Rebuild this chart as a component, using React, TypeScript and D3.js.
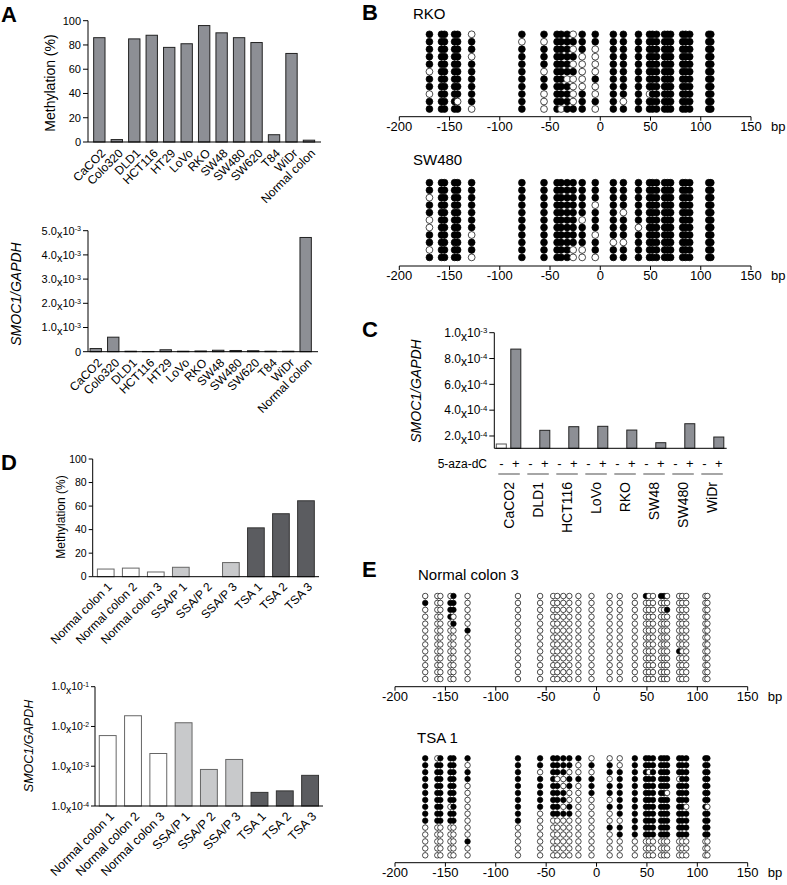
import * as d3 from "d3";

const FONT = "Arial, 'Liberation Sans', Helvetica, sans-serif";

// ---- panel A data ----
const cellLines = ["CaCO2", "Colo320", "DLD1", "HCT116", "HT29", "LoVo", "RKO", "SW48", "SW480", "SW620", "T84", "WiDr", "Normal colon"];
const cellMeth = [86, 2, 85, 88, 78, 81, 96, 90, 86, 82, 6, 73, 1.5];
const cellExpr = [1.3e-4, 6.0e-4, 2e-5, 1e-5, 8e-5, 2e-5, 3e-5, 6e-5, 5e-5, 4e-5, 2e-5, 2e-5, 4.72e-3];
const methTicks = [0, 20, 40, 60, 80, 100];
const exprTicksA = [0, 1e-3, 2e-3, 3e-3, 4e-3, 5e-3];

// ---- panel C data ----
const azaLines = ["CaCO2", "DLD1", "HCT116", "LoVo", "RKO", "SW48", "SW480", "WiDr"];
const azaMinus = [1.38e-4, 5e-5, 5e-5, 5e-5, 5e-5, 5e-5, 5e-5, 5e-5];
const azaPlus = [8.73e-4, 2.44e-4, 2.72e-4, 2.75e-4, 2.46e-4, 1.48e-4, 2.95e-4, 1.92e-4];
const azaTicks = [2e-4, 4e-4, 6e-4, 8e-4, 1e-3];

// ---- panel D data ----
const tissues = ["Normal colon 1", "Normal colon 2", "Normal colon 3", "SSA/P 1", "SSA/P 2", "SSA/P 3", "TSA 1", "TSA 2", "TSA 3"];
const tissueGroup = ["normal", "normal", "normal", "ssap", "ssap", "ssap", "tsa", "tsa", "tsa"];
const tissueMeth = [6.5, 7.3, 4, 8, 0, 12, 41.5, 53.5, 64.5];
const tissueExpr = [5.9e-3, 1.86e-2, 2.09e-3, 1.24e-2, 8.3e-4, 1.48e-3, 2.2e-4, 2.4e-4, 5.9e-4];
const logTicks = [1e-4, 1e-3, 1e-2, 1e-1];

// ---- bisulfite sequencing (B, E) ----
const cpgSites = [-170, -158, -155, -145, -142, -128, -78, -56, -43, -39, -33, -27, -18, -5, 13, 23, 38, 49, 52, 56, 64, 67, 70, 82, 85, 89, 108, 110];
const bpTicks = [-200, -150, -100, -50, 0, 50, 100, 150];
// per clone: site indexes that are unmethylated
const rkoUnmeth = [[5, 11], [6, 7], [11, 13], [5, 12, 13], [11, 12, 13], [0, 7, 12, 13], [10, 11, 12], [11, 12, 13], [0, 7, 11, 13, 17], [4, 7, 11, 15], [5, 7, 9, 13]];
const sw480Unmeth = [[], [], [0], [13], [15], [0, 12], [0, 16], [5, 13], [14, 15], [0, 11, 12], [5, 11, 12, 13]];
// per clone: site indexes that are methylated
const nc3Meth = [[4, 17, 20, 21], [0, 3, 4], [3, 4, 22], [3], [4], [5], [], [], [23], [], [], [], []];
const tsa1Rows = [
  "1011111111111000111111111111",
  "1111101111110110111111111111",
  "1111111011100011110111111111",
  "1111111110011101111111101111",
  "1111101111010111111111111111",
  "1111101111100111111111011111",
  "1111101111100001111111111111",
  "1110101111010011111111111010",
  "1111101011110001111111111111",
  "1111101000000000111111111111",
  "0000000000000011111111111111",
  "0000000000000001111111111111",
  "0000010000000000000000000000",
  "0000000000000000000000000000",
  "0000000000000000000000000000",
];

const fromFlips = (flips: number[][], base: boolean) =>
  flips.map((f) => cpgSites.map((_, i) => (f.includes(i) ? !base : base)));
const fromStrings = (rows: string[]) => rows.map((r) => r.split("").map((c) => c === "1"));

function sciParts(v: number) {
  const e = Math.floor(Math.log10(v) + 1e-9);
  const m = v / Math.pow(10, e);
  return { m: m.toFixed(1), e };
}

function tickText(v: number, sci: boolean) {
  if (!sci || v === 0) return String(v);
  const { m, e } = sciParts(v);
  return (
    <>
      <tspan>{m}</tspan>
      <tspan dy="0.3em">x</tspan>
      <tspan dy="-0.3em">10</tspan>
      <tspan dy="-0.45em" fontSize="0.65em">{"-" + -e}</tspan>
    </>
  );
}

function BarChart(p: any) {
  const { band, y, baseY, axisX } = p;
  const top = y(d3.max(p.ticks as number[]));
  const floor = y.domain()[0];
  return (
    <g fontFamily={FONT} fill="#000">
      {p.keys.map((k: string, i: number) => {
        const v = p.values[i];
        if (v <= floor) return null;
        const yy = y(v);
        return (
          <rect key={k} x={band(k)} y={yy} width={band.bandwidth()} height={baseY - yy}
            fill={p.fills[i]} stroke={p.strokes[i]} strokeWidth={1} />
        );
      })}
      <line x1={axisX} x2={axisX} y1={baseY} y2={top} stroke="#000" />
      <line x1={axisX} x2={p.axisEnd} y1={baseY} y2={baseY} stroke="#000" />
      {p.ticks.map((t: number) => (
        <g key={t}>
          <line x1={axisX - p.tickLen} x2={axisX} y1={y(t)} y2={y(t)} stroke="#000" />
          <text x={axisX - p.tickLen - 2} y={y(t)} dy="0.35em" textAnchor="end" fontSize={p.tickFont}>
            {tickText(t, p.sci)}
          </text>
        </g>
      ))}
      {p.labels &&
        p.keys.map((k: string, i: number) => {
          const cx = band(k) + band.bandwidth() / 2;
          return (
            <text key={"l" + k} transform={`translate(${cx + p.labelDx},${baseY + p.labelDy}) rotate(-45)`}
              textAnchor="end" dy="0.7em" fontSize={p.labelFont}>
              {p.labels[i]}
            </text>
          );
        })}
      <text transform={`translate(${p.yTitleX},${p.yTitleY}) rotate(-90)`} textAnchor="middle"
        fontSize={p.yTitleFont} fontStyle={p.italic ? "italic" : "normal"}>
        {p.yTitle}
      </text>
    </g>
  );
}

function Lollipop(p: any) {
  const x = d3.scaleLinear().domain([-200, 150]).range([p.x0, p.x1]);
  const rows: boolean[][] = p.rows;
  const yLast = p.rowY0 + (rows.length - 1) * p.rowStep;
  return (
    <g fontFamily={FONT} fill="#000">
      <text x={p.titleX} y={p.titleY} fontSize={p.titleFont}>{p.title}</text>
      {cpgSites.map((s) => (
        <line key={"s" + s} x1={x(s)} x2={x(s)} y1={p.rowY0} y2={yLast} stroke="#999" strokeWidth={0.8} />
      ))}
      {rows.map((row, ri) =>
        row.map((m, si) => (
          <circle key={ri + "-" + si} cx={x(cpgSites[si])} cy={p.rowY0 + ri * p.rowStep} r={p.r}
            fill={m ? "#000" : "#fff"} stroke="#000" strokeWidth={0.7} />
        ))
      )}
      <line x1={p.x0} x2={p.x1} y1={p.axisY} y2={p.axisY} stroke="#000" />
      {bpTicks.map((t) => (
        <g key={t}>
          <line x1={x(t)} x2={x(t)} y1={p.axisY} y2={p.axisY + 4} stroke="#000" />
          <text x={x(t)} y={p.axisY + 14} textAnchor="middle" fontSize={p.tickFont}>{t}</text>
        </g>
      ))}
      <text x={p.x1 + 20} y={p.axisY + 14} fontSize={p.tickFont}>bp</text>
    </g>
  );
}

const groupFill: Record<string, string> = { normal: "#ffffff", ssap: "#c8c9cb", tsa: "#5b5c60" };
const groupStroke: Record<string, string> = { normal: "#666", ssap: "#666", tsa: "#333" };

export default function App() {
  const grayFill = cellLines.map(() => "#8d8f95");
  const grayStroke = cellLines.map(() => "#222");

  const bandA1 = d3.scaleBand<string>().domain(cellLines).range([90.6, 317.7]).paddingInner(0.35).paddingOuter(0.175);
  const yA1 = d3.scaleLinear().domain([0, 100]).range([142, 20.7]);
  const bandA2 = d3.scaleBand<string>().domain(cellLines).range([87, 314.4]).paddingInner(0.35).paddingOuter(0.175);
  const yA2 = d3.scaleLinear().domain([0, 5e-3]).range([351.7, 230.7]);

  const azaKeys = azaLines.flatMap((n) => [n + "-", n + "+"]);
  const azaVals = azaLines.flatMap((_, i) => [azaMinus[i], azaPlus[i]]);
  const bandC = d3.scaleBand<string>().domain(azaKeys).range([494.05, 726.05]).paddingInner(0.31).paddingOuter(0.155);
  const yC = d3.scaleLinear().domain([1.047e-4, 1e-3]).range([448.3, 332.7]);

  const bandD1 = d3.scaleBand<string>().domain(tissues).range([93.2, 318.5]).paddingInner(0.333).paddingOuter(0.167);
  const yD1 = d3.scaleLinear().domain([0, 100]).range([576.7, 459]);
  const bandD2 = d3.scaleBand<string>().domain(tissues).range([95.05, 322.75]).paddingInner(0.333).paddingOuter(0.167);
  const yD2 = d3.scaleLog().domain([1e-4, 1e-1]).range([806, 686.7]);

  const tFill = tissueGroup.map((g) => groupFill[g]);
  const tStroke = tissueGroup.map((g) => groupStroke[g]);

  return (
    <svg width={787} height={885} style={{ position: "absolute", left: 0, top: 0, background: "#fff" }}>
      <g fontFamily={FONT} fontWeight="bold" fontSize={22} fill="#000">
        <text x={1} y={22}>A</text>
        <text x={362} y={20}>B</text>
        <text x={362} y={337}>C</text>
        <text x={1} y={470}>D</text>
        <text x={362} y={577}>E</text>
      </g>

      <BarChart keys={cellLines} values={cellMeth} fills={grayFill} strokes={grayStroke} band={bandA1} y={yA1}
        baseY={142} axisX={88} axisEnd={321} ticks={methTicks} sci={false} tickFont={11} tickLen={5}
        labels={cellLines} labelFont={12} labelDx={1} labelDy={6}
        yTitle="Methylation (%)" yTitleX={55} yTitleY={83} yTitleFont={14} />

      <BarChart keys={cellLines} values={cellExpr} fills={grayFill} strokes={grayStroke} band={bandA2} y={yA2}
        baseY={351.7} axisX={88} axisEnd={318} ticks={exprTicksA} sci={true} tickFont={11} tickLen={5}
        labels={cellLines} labelFont={12} labelDx={1} labelDy={6}
        yTitle="SMOC1/GAPDH" yTitleX={21} yTitleY={294} yTitleFont={14} italic />

      <Lollipop title="RKO" titleX={413} titleY={19} rows={fromFlips(rkoUnmeth, true)} x0={399.3} x1={751}
        rowY0={34.3} rowStep={7.47} r={3.4} axisY={116.7} tickFont={13} titleFont={15} />
      <Lollipop title="SW480" titleX={413} titleY={165} rows={fromFlips(sw480Unmeth, true)} x0={399.3} x1={751}
        rowY0={182.7} rowStep={7.47} r={3.4} axisY={266} tickFont={13} titleFont={15} />

      <BarChart keys={azaKeys} values={azaVals}
        fills={azaKeys.map((k) => (k.endsWith("-") ? "#fff" : "#8d8f95"))}
        strokes={azaKeys.map((k) => (k.endsWith("-") ? "#555" : "#222"))}
        band={bandC} y={yC} baseY={448.3} axisX={494.3} axisEnd={726.7} ticks={azaTicks} sci={true}
        tickFont={12} tickLen={5}
        yTitle="SMOC1/GAPDH" yTitleX={421} yTitleY={391} yTitleFont={14} italic />
      <g fontFamily={FONT} fill="#000">
        <text x={487} y={468} textAnchor="end" fontSize={12}>5-aza-dC</text>
        {azaKeys.map((k) => (
          <text key={"sg" + k} x={bandC(k)! + bandC.bandwidth() / 2} y={468} textAnchor="middle" fontSize={13}>
            {k.endsWith("-") ? "-" : "+"}
          </text>
        ))}
        {azaLines.map((n) => {
          const a = bandC(n + "-")! + bandC.bandwidth() / 2;
          const b = bandC(n + "+")! + bandC.bandwidth() / 2;
          const mid = (a + b) / 2;
          return (
            <g key={"g" + n}>
              <line x1={a - 3} x2={b + 4} y1={474} y2={474} stroke="#888" strokeWidth={1.5} />
              <text transform={`translate(${mid + 5},${482}) rotate(-90)`} textAnchor="end" fontSize={14}>{n}</text>
            </g>
          );
        })}
      </g>

      <BarChart keys={tissues} values={tissueMeth} fills={tFill} strokes={tStroke} band={bandD1} y={yD1}
        baseY={576.7} axisX={92.7} axisEnd={319} ticks={methTicks} sci={false} tickFont={10.5} tickLen={4}
        labels={tissues} labelFont={12} labelDx={1} labelDy={5}
        yTitle="Methylation (%)" yTitleX={65} yTitleY={517} yTitleFont={12} />

      <BarChart keys={tissues} values={tissueExpr} fills={tFill} strokes={tStroke} band={bandD2} y={yD2}
        baseY={806} axisX={95} axisEnd={323} ticks={logTicks} sci={true} tickFont={10.5} tickLen={4}
        labels={tissues} labelFont={12.5} labelDx={1} labelDy={5}
        yTitle="SMOC1/GAPDH" yTitleX={33} yTitleY={746} yTitleFont={12.5} italic />

      <Lollipop title="Normal colon 3" titleX={418} titleY={580} rows={fromFlips(nc3Meth, false)} x0={395} x1={747.7}
        rowY0={596} rowStep={6.92} r={2.75} axisY={686.7} tickFont={13} titleFont={15} />
      <Lollipop title="TSA 1" titleX={417} titleY={743} rows={fromStrings(tsa1Rows)} x0={395} x1={747.7}
        rowY0={758.3} rowStep={6.93} r={2.75} axisY={862.7} tickFont={13} titleFont={15} />
    </svg>
  );
}
